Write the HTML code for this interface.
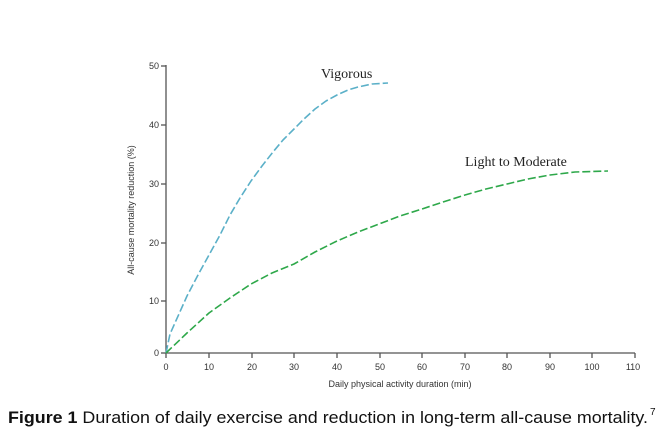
<!DOCTYPE html>
<html><head><meta charset="utf-8"><style>
body{margin:0;width:660px;height:440px;background:#fff;overflow:hidden}
svg{display:block}
</style></head><body>
<svg width="660" height="440" viewBox="0 0 660 440" xmlns="http://www.w3.org/2000/svg">
<g stroke="#555" stroke-width="1.3" fill="none">
<line x1="166" y1="65" x2="166" y2="353"/>
<line x1="166" y1="353" x2="635" y2="353"/>
<line x1="161" y1="66" x2="166" y2="66"/>
<line x1="161" y1="125" x2="166" y2="125"/>
<line x1="161" y1="184" x2="166" y2="184"/>
<line x1="161" y1="243" x2="166" y2="243"/>
<line x1="161" y1="301" x2="166" y2="301"/>
<line x1="161" y1="353" x2="166" y2="353"/>
<line x1="166" y1="353" x2="166" y2="358"/><line x1="209" y1="353" x2="209" y2="358"/><line x1="252" y1="353" x2="252" y2="358"/><line x1="294" y1="353" x2="294" y2="358"/><line x1="337" y1="353" x2="337" y2="358"/><line x1="380" y1="353" x2="380" y2="358"/><line x1="422" y1="353" x2="422" y2="358"/><line x1="465" y1="353" x2="465" y2="358"/><line x1="507" y1="353" x2="507" y2="358"/><line x1="550" y1="353" x2="550" y2="358"/><line x1="592" y1="353" x2="592" y2="358"/><line x1="635" y1="353" x2="635" y2="358"/>
</g>
<g font-family="Liberation Sans Narrow, Liberation Sans, sans-serif" font-size="9" fill="#333" text-anchor="end">
<text x="159" y="69">50</text><text x="159" y="128">40</text><text x="159" y="187">30</text><text x="159" y="246">20</text><text x="159" y="304">10</text><text x="159" y="356">0</text>
</g>
<g font-family="Liberation Sans Narrow, Liberation Sans, sans-serif" font-size="9" fill="#333" text-anchor="middle">
<text x="166" y="370">0</text><text x="209" y="370">10</text><text x="252" y="370">20</text><text x="294" y="370">30</text><text x="337" y="370">40</text><text x="380" y="370">50</text><text x="422" y="370">60</text><text x="465" y="370">70</text><text x="507" y="370">80</text><text x="550" y="370">90</text><text x="592" y="370">100</text><text x="633" y="370">110</text>
<text x="400" y="387">Daily physical activity duration (min)</text>
<text transform="translate(134,210) rotate(-90)">All-cause mortality reduction (%)</text>
</g>
<g font-family="Liberation Serif, serif" font-size="14" fill="#222">
<text x="321" y="78">Vigorous</text>
<text x="465" y="166">Light to Moderate</text>
</g>
<polyline points="166,353 170,334 174.5,324 187,296 198,275 209,255 220,235 230,215 240,198 251,181 262,166 273,152 283,140 294,129 304,119 315,109 326,101 337,95 348,90 358,87 372,84 388,83" stroke="#5bb0c8" stroke-width="1.6" fill="none" stroke-dasharray="8,3" stroke-linejoin="round"/>
<polyline points="166,353 187,333 209,313 230,298 251,284 272,273 294,264 315,252 337,241 358,232 379,224 400,216 422,209 443,202 465,195 486,189 507,184 528,179 550,175 575,172 608,171" stroke="#2ea84a" stroke-width="1.6" fill="none" stroke-dasharray="8,3" stroke-linejoin="round"/>
<text x="8" y="423" font-family="Liberation Sans Narrow, Liberation Sans, sans-serif" font-size="17" fill="#111" textLength="640" lengthAdjust="spacingAndGlyphs"><tspan font-weight="bold">Figure 1</tspan>   Duration of daily exercise and reduction in long-term all-cause mortality.</text>
<text x="650" y="415" font-family="Liberation Sans, sans-serif" font-size="10" fill="#111">7</text>
</svg>
</body></html>
